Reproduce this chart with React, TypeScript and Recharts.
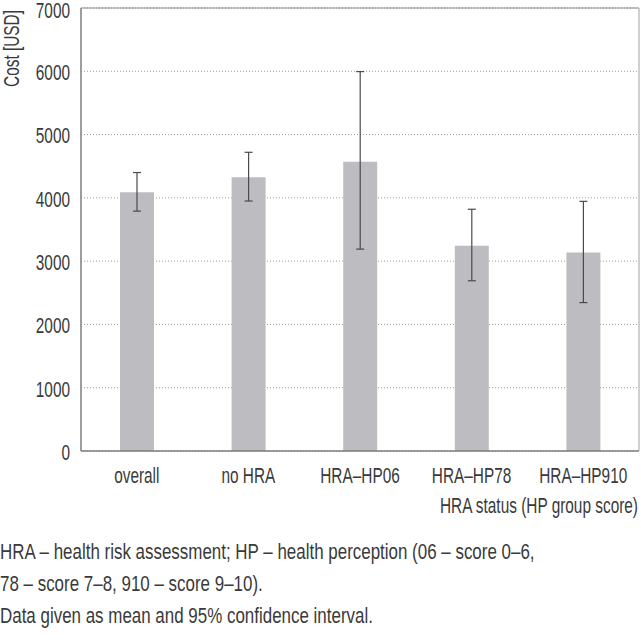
import { BarChart, Bar, XAxis, YAxis, CartesianGrid, ErrorBar, ReferenceLine, Label } from "recharts"

const groups = ["overall", "no HRA", "HRA–HP06", "HRA–HP78", "HRA–HP910"]
const meanCost = [4090, 4325, 4570, 3245, 3135]
const ciLow = [3790, 3950, 3190, 2690, 2345]
const ciHigh = [4400, 4720, 5995, 3820, 3945]
const yTicks = [0, 1000, 2000, 3000, 4000, 5000, 6000, 7000]

// no condensed face installed, so squeeze a regular one horizontally
const font = "'Liberation Sans', Arial, sans-serif"
const fs = 22
const squeeze = 0.7
const ink = "#3a3a3a"

const data = groups.map((g, i) => ({
  group: g,
  cost: meanCost[i],
  ci: [meanCost[i] - ciLow[i], ciHigh[i] - meanCost[i]],
}))

function NarrowText({ x, y, anchor, dy, rotate = 0, children }: any) {
  return (
    <text
      transform={`translate(${x},${y}) rotate(${rotate}) scale(${squeeze},1)`}
      textAnchor={anchor}
      dy={dy}
      fill={ink}
      fontSize={fs}
      fontFamily={font}
    >
      {children}
    </text>
  )
}

const XTick = ({ x, y, payload }: any) => (
  <NarrowText x={x} y={y} anchor="middle" dy="0.71em">{payload.value}</NarrowText>
)

const YTick = ({ x, y, payload }: any) => (
  <NarrowText x={x} y={Math.max(y + 1, 10)} anchor="end" dy="0.355em">{payload.value}</NarrowText>
)

export default function App() {
  return (
    <div style={{ position: "absolute", left: 0, top: 0, width: 641, height: 642, background: "#fff" }}>
      <BarChart width={641} height={531} data={data} margin={{ top: 8, right: 0, bottom: 0, left: 0 }}>
        <CartesianGrid vertical={false} stroke="#9a9a9a" strokeDasharray="1 2" />
        <XAxis
          dataKey="group"
          height={80}
          axisLine={{ stroke: "#7d7d7d", strokeWidth: 1.5 }}
          tickLine={false}
          tickSize={0}
          tickMargin={16}
          tick={<XTick />}
        >
          <Label
            content={({ viewBox }: any) => (
              <NarrowText x={viewBox.x + viewBox.width - 1} y={viewBox.y + 62} anchor="end">
                HRA status (HP group score)
              </NarrowText>
            )}
          />
        </XAxis>
        <YAxis
          width={81}
          domain={[0, 7000]}
          ticks={yTicks}
          interval={0}
          axisLine={{ stroke: "#7d7d7d", strokeWidth: 1.5 }}
          tickLine={false}
          tickSize={0}
          tickMargin={11}
          tick={<YTick />}
        >
          <Label
            content={() => (
              <NarrowText x={19} y={10} rotate={-90} anchor="end">
                Cost [USD]
              </NarrowText>
            )}
          />
        </YAxis>
        <YAxis yAxisId="frame" orientation="right" width={2} tick={false} tickLine={false} axisLine={{ stroke: "#a0a0a0" }} />
        <ReferenceLine y={7000} stroke="#8a8a8a" strokeWidth={1.2} />
        <Bar dataKey="cost" fill="#bdbdc1" barSize={34} isAnimationActive={false}>
          <ErrorBar dataKey="ci" width={4} stroke="#4a4a4a" strokeWidth={1.2} direction="y" />
        </Bar>
      </BarChart>
      <div
        style={{
          position: "absolute",
          left: 0,
          top: 536,
          fontFamily: font,
          fontSize: fs,
          lineHeight: "32px",
          color: ink,
          whiteSpace: "nowrap",
          transform: "scaleX(0.77)",
          transformOrigin: "0 0",
        }}
      >
        <div>HRA – health risk assessment; HP – health perception (06 – score 0–6,</div>
        <div>78 – score 7–8, 910 – score 9–10).</div>
        <div>Data given as mean and 95% confidence interval.</div>
      </div>
    </div>
  )
}
